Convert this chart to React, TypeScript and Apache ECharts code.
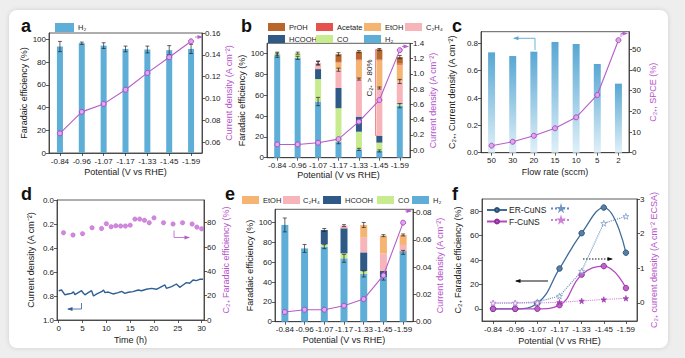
import React, { useEffect, useRef } from 'react';
import * as echarts from 'echarts';

const FONT = '"Liberation Sans", Arial, Helvetica, sans-serif';
const INK = '#222222';
const AXIS = '#333333';
const MAG = '#b65ccc';
const MAGT = '#b552cc';
const BLUE = '#5eaed8';
const GREEN = '#c8eb8f';
const DBLUE = '#2f5a88';
const PINK = '#f8b5b9';
const PEACH = '#f6b472';
const RED = '#e5514d';
const BROWN = '#b8662c';

// ---------- shared categories ----------
const potentials = ['-0.84', '-0.96', '-1.07', '-1.17', '-1.33', '-1.45', '-1.59'];

// ---------- panel a ----------
const aH2 = [93.6, 96.5, 94.4, 91.5, 91, 90.4, 91.5];
const aH2Err = [4.5, 1, 2.5, 2.5, 3, 4, 4];
const aJ = [0.068, 0.0877, 0.095, 0.108, 0.1234, 0.1378, 0.1524];
const aLeftTicks = [0, 20, 40, 60, 80, 100];
const aRightTicks = [0.06, 0.08, 0.1, 0.12, 0.14, 0.16];

// ---------- panel b ----------
const bH2 = [98.5, 96, 54, 15.4, 8, 6.5, 50];
const bCO = [1.5, 4.5, 21.6, 32.2, 17, 8, 1.8];
const bHCOOH = [0, 0, 9.6, 19.4, 14.5, 6.5, 0.6];
const bC2H4 = [0, 0, 5.8, 17.6, 36.1, 46, 20.9];
const bEtOH = [0, 0, 0, 7, 18, 26.6, 16.1];
const bAcetate = [0, 0, 0, 0.5, 0.8, 0.8, 1];
const bPrOH = [0, 0, 0, 7.4, 7.6, 9.6, 6.4];
const bH2Err = [2, 1.5, 4, 2, 1, 1, 2];
const bC2H4Err = [0, 0, 1.5, 1.5, 1, 1, 2];
const bTopErr = [1.5, 1, 2, 1.5, 1, 1, 1.5];
const bJ = [0.074, 0.074, 0.096, 0.144, 0.372, 0.656, 1.31];
const bLeftTicks = [0, 20, 40, 60, 80, 100];
const bRightTicks = [0, 0.2, 0.4, 0.6, 0.8, 1.0, 1.2, 1.4];

// ---------- panel c ----------
const flowRates = ['50', '30', '20', '15', '10', '5', '2'];
const cJ = [0.734, 0.707, 0.739, 0.81, 0.795, 0.649, 0.505];
const cSPCE = [3.4, 5.3, 8.2, 11.8, 17.1, 27.9, 54.4];
const cLeftTicks = [0, 0.2, 0.4, 0.6, 0.8];
const cRightTicks = [0, 10, 20, 30, 40, 50];

// ---------- panel d ----------
const dTime = [0, 0.6, 1.3, 2.0, 2.7, 3.1, 3.4, 4.1, 4.8, 5.2, 5.5, 6.2, 6.9, 7.3, 8.0, 9.0, 9.4, 9.7, 10.4, 11.4, 12.5, 13.2, 13.9, 14.6, 15.6, 16.7, 17.4, 18.4, 19.5, 20.5, 21.6, 22.3, 22.6, 23.7, 24.7, 25.4, 26.1, 26.8, 27.5, 28.2, 28.9, 29.6, 30.3];
const dCurrent = [0.756, 0.75, 0.79, 0.783, 0.778, 0.764, 0.789, 0.772, 0.756, 0.778, 0.79, 0.772, 0.756, 0.8, 0.783, 0.764, 0.75, 0.772, 0.767, 0.783, 0.772, 0.761, 0.778, 0.769, 0.764, 0.75, 0.756, 0.744, 0.736, 0.744, 0.722, 0.708, 0.736, 0.722, 0.7, 0.728, 0.708, 0.689, 0.694, 0.667, 0.672, 0.661, 0.661];
const dFETime = [1, 3, 5, 7, 9, 10, 11, 12, 13, 14, 15, 16, 17, 18, 19, 20, 22, 24, 26, 28, 29, 30];
const dFE = [71.8, 69.9, 71, 75.9, 75.3, 79.2, 76.7, 77.5, 77.3, 77.3, 78, 83, 83, 82, 80, 84, 80, 79, 80, 79, 76.4, 75];
const dLeftTicks = [0, 0.2, 0.4, 0.6, 0.8, 1.0];
const dRightTicks = [0, 20, 40, 60, 80];
const dTimeTicks = [0, 5, 10, 15, 20, 25, 30];

// ---------- panel e ----------
const eH2 = [97.7, 74, 75.8, 64, 48.2, 45, 70];
const eCO = [0, 0, 2.4, 5, 3, 0, 0];
const eHCOOH = [0, 0, 14.4, 25.3, 18.8, 6.2, 1];
const eC2H4 = [0, 0, 0, 2.7, 14.8, 17.8, 6.5];
const eEtOH = [0, 0, 0, 0, 12.9, 17.9, 10.1];
const eH2Err = [7, 4, 2, 4, 3, 3, 2];
const eTopErr = [0, 0, 1.5, 1, 2.5, 1, 1];
const eJ = [0.0071, 0.0088, 0.0088, 0.0117, 0.0166, 0.034, 0.0727];
const eLeftTicks = [0, 20, 40, 60, 80, 100];
const eRightTicks = [0, 0.02, 0.04, 0.06, 0.08];

// ---------- panel f ----------
const fErFE = [0, 0, 4.5, 33, 62, 83, 46];
const fFFE = [0, 0, 0, 3, 28, 35, 17];
const fErJ = [0, 0, 0.03, 0.2, 0.92, 2.3, 2.5];
const fFJ = [0, 0, 0, 0.02, 0.06, 0.1, 0.135];
const fLeftTicks = [0, 20, 40, 60, 80];
const fRightTicks = [0, 1, 2, 3];

const STAR = 'path://M50,0 L61,35 L98,35 L68,57 L79,91 L50,70 L21,91 L32,57 L2,35 L39,35 Z';

// ---------- helpers ----------
const axLine = { color: AXIS, width: 0.8 };
const gridStyle = { show: true, borderColor: AXIS, borderWidth: 0.8, backgroundColor: 'transparent' };

function yAx(o: any) {
  return {
    type: 'value',
    position: o.position,
    min: o.min,
    max: o.max,
    inverse: !!o.inverse,
    name: o.name,
    nameLocation: 'middle',
    nameGap: o.nameGap,
    nameRotate: 90,
    nameTextStyle: { color: o.nameColor, fontSize: 9, fontFamily: FONT },
    axisLine: { show: true, onZero: false, lineStyle: axLine },
    axisTick: { show: true, length: 3, customValues: o.ticks, lineStyle: axLine },
    axisLabel: { customValues: o.ticks, formatter: o.fmt, fontSize: 8, color: INK, margin: 3, fontFamily: FONT },
    splitLine: { show: false },
  };
}

function catAx(data: string[], name: string, nameGap: number) {
  return {
    type: 'category',
    data,
    name,
    nameLocation: 'middle',
    nameGap,
    nameTextStyle: { color: INK, fontSize: 9, fontFamily: FONT },
    axisLine: { show: true, onZero: false, lineStyle: axLine },
    axisTick: { show: true, alignWithLabel: true, length: 3, lineStyle: axLine },
    axisLabel: { interval: 0, fontSize: 8, color: INK, margin: 4, fontFamily: FONT },
    splitLine: { show: false },
  };
}

function legendItem(name: string, left: number, top: number, w = 17, h = 8, fs = 7.5, empty = false, pad = 0) {
  return {
    data: [name],
    left,
    top,
    padding: 0,
    itemGap: 0,
    itemWidth: w,
    itemHeight: h,
    selectedMode: false,
    icon: undefined as any,
    formatter: empty ? () => '' : undefined,
    textStyle: { fontSize: fs, color: INK, fontFamily: FONT, padding: [0, 0, 0, pad] },
  };
}

function rectLegend(name: string, left: number, top: number, w = 17, h = 8, pad = -1) {
  const l = legendItem(name, left, top, w, h, 7.5, false, pad);
  l.icon = 'rect';
  return l;
}

function cum(arrs: number[][]) {
  return arrs[0].map((_, i) => arrs.reduce((s, a) => s + a[i], 0));
}

function errorSeries(tops: number[], errs: number[], yi = 0) {
  const data = tops.map((t, i) => [i, t - errs[i], t + errs[i]]).filter((_, i) => errs[i] > 0);
  return {
    type: 'custom',
    yAxisIndex: yi,
    z: 5,
    silent: true,
    data,
    encode: { x: 0, y: [1, 2] },
    renderItem: (_p: any, api: any) => {
      const i = api.value(0);
      const a = api.coord([i, api.value(1)]);
      const b = api.coord([i, api.value(2)]);
      const x = a[0];
      const w = 2;
      const st = { stroke: '#222', lineWidth: 0.7 };
      return {
        type: 'group',
        children: [
          { type: 'line', shape: { x1: x, y1: a[1], x2: x, y2: b[1] }, style: st },
          { type: 'line', shape: { x1: x - w, y1: a[1], x2: x + w, y2: a[1] }, style: st },
          { type: 'line', shape: { x1: x - w, y1: b[1], x2: x + w, y2: b[1] }, style: st },
        ],
      };
    },
  };
}

function magLine(data: number[]) {
  return {
    type: 'line',
    name: 'j',
    yAxisIndex: 1,
    data,
    z: 6,
    symbol: 'circle',
    symbolSize: 5,
    lineStyle: { color: MAG, width: 1.1 },
    itemStyle: { color: '#dfa6ea', borderColor: '#a843c0', borderWidth: 0.9 },
  };
}

function stackBar(name: string, data: number[], color: string, w: number) {
  return { type: 'bar', name, data, stack: 'fe', barWidth: w, itemStyle: { color } };
}

function letter(t: string, x: number, baseline: number) {
  return {
    type: 'text',
    x,
    y: baseline - 6,
    style: { text: t, fontSize: 18, fontWeight: 'bold', fill: '#111', fontFamily: FONT, verticalAlign: 'middle', align: 'left' },
  };
}

function arrow(points: number[][], color: string, dir: 'left' | 'right', dashed = false, lw = 1) {
  const [hx, hy] = points[points.length - 1];
  const s = dir === 'left' ? 1 : -1;
  return [
    { type: 'polyline', shape: { points }, style: { stroke: color, lineWidth: lw, fill: 'none', lineDash: dashed ? [1.5, 1.5] : null } },
    { type: 'polygon', shape: { points: [[hx - s * 1, hy], [hx + s * 4.5, hy - 2], [hx + s * 4.5, hy + 2]] }, style: { fill: color } },
  ];
}

// ---------- options ----------
function optA() {
  return {
    animation: false,
    grid: { left: 49, top: 33, width: 153, height: 120, ...gridStyle },
    xAxis: catAx(potentials, 'Potential (V vs RHE)', 14),
    yAxis: [
      yAx({ position: 'left', min: 0, max: 105.5, ticks: aLeftTicks, fmt: (v: number) => String(v), name: 'Faradaic efficiency (%)', nameColor: INK, nameGap: 19 }),
      yAx({ position: 'right', min: 0.05, max: 0.16, ticks: aRightTicks, fmt: (v: number) => v.toFixed(2), name: 'Current density (A cm⁻²)', nameColor: MAGT, nameGap: 19 }),
    ],
    legend: [rectLegend('H₂', 55, 23, 19, 9)],
    series: [
      { type: 'bar', name: 'H₂', data: aH2, barWidth: 6, itemStyle: { color: BLUE } },
      errorSeries(aH2, aH2Err),
      magLine(aJ),
    ],
    graphic: [letter('a', 21, 32), ...arrow([[195, 37], [202, 37]], MAG, 'right', false, 0.8)],
  };
}

function optB() {
  const t1 = bH2;
  const t3 = cum([bH2, bCO, bHCOOH, bC2H4]);
  const tTop = cum([bH2, bCO, bHCOOH, bC2H4, bEtOH, bAcetate, bPrOH]);
  const w = 6;
  return {
    animation: false,
    grid: { left: 267, top: 43.3, width: 143, height: 114.4, ...gridStyle },
    xAxis: catAx(potentials, 'Potential (V vs RHE)', 11),
    yAxis: [
      yAx({ position: 'left', min: 0, max: 110, ticks: bLeftTicks, fmt: (v: number) => String(v), name: 'Faradaic efficiency (%)', nameColor: INK, nameGap: 13 }),
      yAx({ position: 'right', min: -0.1, max: 1.4, ticks: bRightTicks, fmt: (v: number) => v.toFixed(1), name: 'Current density (A cm⁻²)', nameColor: MAGT, nameGap: 14 }),
    ],
    legend: [
      rectLegend('PrOH', 268, 23), rectLegend('Acetate', 316, 23), rectLegend('EtOH', 364, 23), rectLegend('C₂H₄', 405, 23),
      rectLegend('HCOOH', 268, 35), rectLegend('CO', 316, 35), rectLegend('H₂', 364, 35),
    ],
    series: [
      stackBar('H₂', bH2, BLUE, w),
      stackBar('CO', bCO, GREEN, w),
      stackBar('HCOOH', bHCOOH, DBLUE, w),
      stackBar('C₂H₄', bC2H4, PINK, w),
      stackBar('EtOH', bEtOH, PEACH, w),
      stackBar('Acetate', bAcetate, RED, w),
      stackBar('PrOH', bPrOH, BROWN, w),
      errorSeries(t1, bH2Err),
      errorSeries(t3, bC2H4Err),
      errorSeries(tTop, bTopErr),
      magLine(bJ),
    ],
    graphic: [
      letter('b', 241, 32),
      { type: 'polyline', shape: { points: [[381, 49.5], [375.5, 49.5], [375.5, 135.5], [381, 135.5]] }, style: { stroke: '#e07272', lineWidth: 0.8, fill: 'none' } },
      { type: 'text', x: 369.5, y: 78, rotation: Math.PI / 2, style: { text: 'C₂₊ > 80%', fontSize: 8, fill: INK, fontFamily: FONT, align: 'center', verticalAlign: 'middle' } },
      ...arrow([[402, 46.5], [408, 46.5]], MAG, 'right', false, 0.8),
    ],
  };
}

function optC() {
  return {
    animation: false,
    grid: { left: 481, top: 31.7, width: 148, height: 121, ...gridStyle },
    xAxis: catAx(flowRates, 'Flow rate (sccm)', 15),
    yAxis: [
      yAx({ position: 'left', min: 0, max: 0.885, ticks: cLeftTicks, fmt: (v: number) => v.toFixed(1), name: 'C₂₊, Current density (A cm⁻²)', nameColor: INK, nameGap: 25 }),
      yAx({ position: 'right', min: 0, max: 58.5, ticks: cRightTicks, fmt: (v: number) => String(v), name: 'C₂₊, SPCE (%)', nameColor: MAGT, nameGap: 19 }),
    ],
    series: [
      {
        type: 'bar', name: 'jC2', data: cJ, barWidth: 7,
        itemStyle: { color: { type: 'linear', x: 0, y: 0, x2: 0, y2: 1, colorStops: [{ offset: 0, color: '#58a7d3' }, { offset: 1, color: '#dff0f8' }] } },
      },
      magLine(cSPCE),
    ],
    graphic: [
      letter('c', 452, 32),
      ...arrow([[535, 50], [535, 38.3], [514, 38.3]], '#5aaad5', 'left', false, 0.9),
      ...arrow([[621, 37], [621, 33.5], [627, 33.5]], MAG, 'right', false, 0.8),
    ],
  };
}

function optD() {
  return {
    animation: false,
    grid: { left: 57, top: 200, width: 147, height: 120, ...gridStyle },
    xAxis: {
      type: 'value', min: -0.36, max: 30.5, name: 'Time (h)', nameLocation: 'middle', nameGap: 15,
      nameTextStyle: { color: INK, fontSize: 9, fontFamily: FONT },
      axisLine: { show: true, onZero: false, lineStyle: axLine },
      axisTick: { show: true, length: 3, customValues: dTimeTicks, lineStyle: axLine },
      axisLabel: { customValues: dTimeTicks, fontSize: 8, color: INK, margin: 4, fontFamily: FONT },
      splitLine: { show: false },
    },
    yAxis: [
      yAx({ position: 'left', min: 0, max: 1, inverse: true, ticks: dLeftTicks, fmt: (v: number) => v.toFixed(1), name: 'Current density (A cm⁻²)', nameColor: INK, nameGap: 22 }),
      yAx({ position: 'right', min: 0, max: 98.7, ticks: dRightTicks, fmt: (v: number) => String(v), name: 'C₂₊ Faradaic efficiency (%)', nameColor: MAGT, nameGap: 17 }),
    ],
    series: [
      { type: 'line', name: 'j', yAxisIndex: 0, data: dTime.map((t, i) => [t, dCurrent[i]]), symbol: 'none', lineStyle: { color: '#2f5f94', width: 1.4 } },
      { type: 'scatter', name: 'FE', yAxisIndex: 1, data: dFETime.map((t, i) => [t, dFE[i]]), symbolSize: 4.5, itemStyle: { color: '#c56bd6', borderColor: '#b050c4', borderWidth: 0.4 } },
    ],
    graphic: [
      letter('d', 21, 200),
      ...arrow([[81.5, 303], [81.5, 309], [68, 309]], '#2f5f94', 'left', false, 0.8),
      ...arrow([[174, 230.5], [174, 237.5], [189, 237.5]], MAG, 'right', false, 0.8),
    ],
  };
}

function optE() {
  const tTop = cum([eH2, eCO, eHCOOH, eC2H4, eEtOH]);
  const w = 7;
  return {
    animation: false,
    grid: { left: 275, top: 209.3, width: 138, height: 112.4, ...gridStyle },
    xAxis: catAx(potentials, 'Potential (V vs RHE)', 14),
    yAxis: [
      yAx({ position: 'left', min: 0, max: 113.5, ticks: eLeftTicks, fmt: (v: number) => String(v), name: 'Faradaic efficiency (%)', nameColor: INK, nameGap: 18 }),
      yAx({ position: 'right', min: 0, max: 0.0825, ticks: eRightTicks, fmt: (v: number) => v.toFixed(2), name: 'Current density (A cm⁻²)', nameColor: MAGT, nameGap: 19 }),
    ],
    legend: [
      rectLegend('EtOH', 242, 196), rectLegend('C₂H₄', 283, 196, 17, 8, -2), rectLegend('HCOOH', 323, 196, 18, 8),
      rectLegend('CO', 377, 196), rectLegend('H₂', 412, 196),
    ],
    series: [
      stackBar('H₂', eH2, BLUE, w),
      stackBar('CO', eCO, GREEN, w),
      stackBar('HCOOH', eHCOOH, DBLUE, w),
      stackBar('C₂H₄', eC2H4, PINK, w),
      stackBar('EtOH', eEtOH, PEACH, w),
      errorSeries(eH2, eH2Err),
      errorSeries(tTop, eTopErr),
      magLine(eJ),
    ],
    graphic: [letter('e', 225, 200), ...arrow([[405, 211], [411, 211]], MAG, 'right', false, 0.8)],
  };
}

function optF() {
  const erColor = '#3f6c98';
  const fColor = '#b548c2';
  return {
    animation: false,
    grid: { left: 482, top: 199, width: 155, height: 122, ...gridStyle },
    xAxis: catAx(potentials, 'Potential (V vs RHE)', 15),
    yAxis: [
      yAx({ position: 'left', min: -10, max: 90, ticks: fLeftTicks, fmt: (v: number) => String(v), name: 'C₂₊ Faradaic efficiency (%)', nameColor: INK, nameGap: 20 }),
      yAx({ position: 'right', min: -0.52, max: 3, ticks: fRightTicks, fmt: (v: number) => String(v), name: 'C₂₊ current density (A cm⁻² ECSA)', nameColor: MAGT, nameGap: 12 }),
    ],
    legend: [
      legendItem('ER-CuNS', 486, 205.5, 20, 5, 8.5, false, -3),
      legendItem('ER-CuNS j', 550, 205.5, 20, 5, 8.5, true),
      legendItem('F-CuNS', 486, 217, 20, 5, 8.5, false, -3),
      legendItem('F-CuNS j', 550, 217, 20, 5, 8.5, true),
    ],
    series: [
      {
        type: 'line', name: 'ER-CuNS', yAxisIndex: 0, data: fErFE, smooth: 0.45, symbol: 'circle', symbolSize: 5.5,
        lineStyle: { color: erColor, width: 1.3 }, itemStyle: { color: '#557fa8', borderColor: '#2c4f74', borderWidth: 0.9 },
      },
      {
        type: 'line', name: 'F-CuNS', yAxisIndex: 0, data: fFFE, smooth: 0.45, symbol: 'circle', symbolSize: 5.5,
        lineStyle: { color: fColor, width: 1.3 }, itemStyle: { color: '#c060cc', borderColor: '#8e2f9c', borderWidth: 0.9 },
      },
      {
        type: 'line', name: 'ER-CuNS j', yAxisIndex: 1, data: fErJ, symbol: STAR, symbolSize: 6,
        lineStyle: { color: '#5f8abb', width: 1.1, type: 'dotted' }, itemStyle: { color: '#ffffff', borderColor: '#6f95c0', borderWidth: 0.7 },
      },
      {
        type: 'line', name: 'F-CuNS j', yAxisIndex: 1,
        data: fFJ.map((v, i) => (i >= 3 ? { value: v, itemStyle: { color: '#a23db3', borderColor: '#a23db3' } } : v)),
        symbol: STAR, symbolSize: 5.5,
        lineStyle: { color: '#cf7fd8', width: 1.1, type: 'dotted' }, itemStyle: { color: '#ffffff', borderColor: '#cf7fd8', borderWidth: 0.7 },
      },
    ],
    graphic: [
      letter('f', 452, 200),
      ...arrow([[548, 281], [516, 281]], '#111', 'left', false, 1),
      ...arrow([[583, 259], [612, 259]], '#111', 'right', true, 1),
    ],
  };
}

export default function App() {
  const r0 = useRef<HTMLDivElement>(null);
  const r1 = useRef<HTMLDivElement>(null);
  const r2 = useRef<HTMLDivElement>(null);
  const r3 = useRef<HTMLDivElement>(null);
  const r4 = useRef<HTMLDivElement>(null);
  const r5 = useRef<HTMLDivElement>(null);
  const refs = [r0, r1, r2, r3, r4, r5];

  useEffect(() => {
    const opts = [optA(), optB(), optC(), optD(), optE(), optF()];
    const charts = refs.map((r, i) => {
      const c = echarts.init(r.current as HTMLDivElement, null, { renderer: 'svg' });
      c.setOption({ textStyle: { fontFamily: FONT }, ...opts[i] } as any);
      return c;
    });
    return () => charts.forEach((c) => c.dispose());
  }, []);

  return (
    <div style={{ position: 'fixed', left: 0, top: 0, width: 685, height: 358, background: '#eeeeee', overflow: 'hidden' }}>
      <div style={{ position: 'absolute', left: 9, top: 10, width: 659, height: 338, background: '#ffffff', borderRadius: 8, boxShadow: '0 0 5px rgba(0,0,0,0.13)' }} />
      {refs.map((r, i) => (
        <div key={i} ref={r} style={{ position: 'absolute', left: 0, top: 0, width: 685, height: 358 }} />
      ))}
    </div>
  );
}
